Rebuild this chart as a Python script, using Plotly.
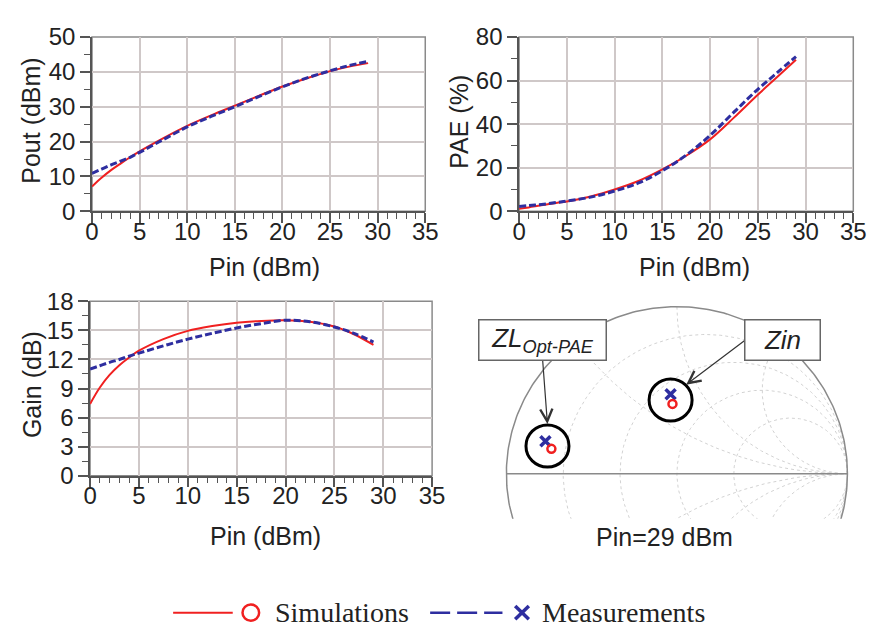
import numpy as np
import plotly.graph_objects as go

W, H = 879, 640

# ---------------- data ----------------
pin = [0, 1, 2, 3, 4, 5, 7.5, 10, 12.5, 15, 17.5, 20, 22.5, 25, 27, 29]
pout_sim = [7.1, 9.6, 11.8, 13.7, 15.5, 17.2, 21.0, 24.5, 27.5, 30.3, 33.1, 35.8, 38.1, 40.2, 41.5, 42.5]
pout_meas = [10.9, 12.1, 13.3, 14.4, 15.5, 16.9, 20.6, 24.2, 27.2, 30.0, 32.9, 35.7, 38.2, 40.3, 41.8, 43.0]
pae_sim = [1.2, 1.8, 2.5, 3.2, 3.9, 4.5, 6.8, 10.0, 13.9, 19.2, 25.5, 33.0, 43.0, 53.5, 61.5, 69.6]
pae_meas = [2.2, 2.6, 3.0, 3.5, 4.1, 4.7, 6.5, 9.3, 13.0, 18.6, 25.8, 34.8, 45.5, 56.0, 63.5, 71.0]
gain_sim = [7.4, 9.1, 10.4, 11.4, 12.2, 12.9, 14.1, 14.95, 15.45, 15.8, 15.98, 16.05, 15.9, 15.4, 14.6, 13.5]
gain_meas = [11.0, 11.35, 11.7, 12.0, 12.35, 12.65, 13.4, 14.1, 14.7, 15.25, 15.7, 16.05, 15.9, 15.35, 14.7, 13.8]

# reflection coefficients at Pin = 29 dBm (real, imag)
gamma_labels = ["ZL Opt-PAE", "Zin"]
gamma_sim_re = [-0.736, -0.026]
gamma_sim_im = [0.149, 0.418]
gamma_meas_re = [-0.771, -0.037]
gamma_meas_im = [0.195, 0.476]

RED = "#f02020"
BLUE = "#2e2ea0"
FONT = "Liberation Sans"
SERIF = "Liberation Serif"

def px(x):
    return x / W

def py(y):
    return 1 - y / H

fig = go.Figure()

panels = [
    ("x", "y", pout_sim, pout_meas),
    ("x2", "y2", pae_sim, pae_meas),
    ("x3", "y3", gain_sim, gain_meas),
]
for xa, ya, s, m in panels:
    fig.add_trace(go.Scatter(x=pin, y=s, mode="lines", line=dict(color=RED, width=2, shape="spline"),
                             xaxis=xa, yaxis=ya, showlegend=False))
    fig.add_trace(go.Scatter(x=pin, y=m, mode="lines", line=dict(color=BLUE, width=3, dash="7px,3px", shape="spline"),
                             xaxis=xa, yaxis=ya, showlegend=False))

# ---------------- Smith chart grid ----------------
GRID = "#d2d2d2"
th = np.linspace(0, 2 * np.pi, 361)
for r in [0.2, 0.5, 1, 2]:
    c, rad = r / (1 + r), 1 / (1 + r)
    fig.add_trace(go.Scatter(x=c + rad * np.cos(th), y=rad * np.sin(th), mode="lines",
                             line=dict(color=GRID, width=1, dash="dot"), xaxis="x4", yaxis="y4",
                             showlegend=False, hoverinfo="skip"))
rr = np.concatenate([np.linspace(0, 5, 300), np.logspace(0.7, 4, 200)])
for xv in [0.5, 1, 2, -0.5, -1, -2]:
    z = rr + 1j * xv
    g = (z - 1) / (z + 1)
    fig.add_trace(go.Scatter(x=g.real, y=g.imag, mode="lines",
                             line=dict(color=GRID, width=1, dash="dot"), xaxis="x4", yaxis="y4",
                             showlegend=False, hoverinfo="skip"))
# outer circle and real axis
fig.add_trace(go.Scatter(x=np.cos(th), y=np.sin(th), mode="lines", line=dict(color="#8a8a8a", width=1.5),
                         xaxis="x4", yaxis="y4", showlegend=False, hoverinfo="skip"))
fig.add_trace(go.Scatter(x=[-1, 1], y=[0, 0], mode="lines", line=dict(color="#8a8a8a", width=1.5),
                         xaxis="x4", yaxis="y4", showlegend=False, hoverinfo="skip"))

# measured / simulated points
fig.add_trace(go.Scatter(x=gamma_meas_re, y=gamma_meas_im, mode="markers", text=gamma_labels,
                         marker=dict(symbol="x-thin", size=10, line=dict(color=BLUE, width=3.5), color=BLUE),
                         xaxis="x4", yaxis="y4", showlegend=False))
fig.add_trace(go.Scatter(x=gamma_sim_re, y=gamma_sim_im, mode="markers", text=gamma_labels,
                         marker=dict(symbol="circle-open", size=8, line=dict(color=RED, width=2.5), color=RED),
                         xaxis="x4", yaxis="y4", showlegend=False))

# ---------------- axes ----------------
tickfont = dict(family=FONT, size=24, color="#222")

def cart_axis(domain, rng, dtick, minor_dtick, anchor, is_x):
    d = dict(domain=domain, range=rng, dtick=dtick, tick0=0, anchor=anchor,
             showgrid=True, gridcolor="#cfc8c8", gridwidth=1.5,
             showline=True, linecolor="#555", linewidth=1.5, mirror=False,
             ticks="outside", ticklen=10, tickwidth=1.5, tickcolor="#555",
             tickfont=tickfont, zeroline=False,
             minor=dict(dtick=minor_dtick, tick0=0, ticks="outside", ticklen=6,
                        tickwidth=1.2, tickcolor="#555", showgrid=False))
    if is_x:
        d["ticklabelstandoff"] = -12
    return d

TL = (87, 428, 24, 206)
TR = (524, 866, 24, 206)
BL = (85, 435, 300, 482)

def dom(p):
    return [px(p[0]), px(p[1])], [py(p[3]), py(p[2])]

xd, yd = dom(TL)
x2d, y2d = dom(TR)
x3d, y3d = dom(BL)

layout = dict(
    width=W, height=H, margin=dict(l=0, r=0, t=0, b=0),
    paper_bgcolor="white", plot_bgcolor="white",
    xaxis=cart_axis(xd, [0, 35], 5, 1, "y", True),
    yaxis=cart_axis(yd, [0, 50], 10, 5, "x", False),
    xaxis2=cart_axis(x2d, [0, 35], 5, 1, "y2", True),
    yaxis2=cart_axis(y2d, [0, 80], 20, 10, "x2", False),
    xaxis3=cart_axis(x3d, [0, 35], 5, 1, "y3", True),
    yaxis3=cart_axis(y3d, [0, 18], 3, 1.5, "x3", False),
    xaxis4=dict(domain=[px(500), px(870)], range=[(500 - 685.5) / 174.5, (870 - 685.5) / 174.5],
                visible=False, anchor="y4"),
    yaxis4=dict(domain=[py(527), py(300)], range=[(480 - 527) / 174.5, (480 - 300) / 174.5],
                visible=False, anchor="x4"),
    showlegend=False,
)
fig.update_layout(**layout)

shapes = []
# frames (top/right) for the three cartesian plots
for p in (TL, TR, BL):
    shapes.append(dict(type="rect", xref="paper", yref="paper", x0=px(p[0]), x1=px(p[1]),
                       y0=py(p[3]), y1=py(p[2]), line=dict(color="#8a8a8a", width=1.5), layer="below"))

# circles around the points
for cx, cy in [(-0.759, 0.166), (-0.037, 0.441)]:
    r = 22 / 174.5
    shapes.append(dict(type="circle", xref="x4", yref="y4", x0=cx - r, x1=cx + r, y0=cy - r, y1=cy + r,
                       line=dict(color="black", width=3)))

# legend samples
ly = 625
shapes.append(dict(type="line", xref="paper", yref="paper", x0=px(170), x1=px(231), y0=py(ly), y1=py(ly),
                   line=dict(color=RED, width=2)))
shapes.append(dict(type="circle", xref="paper", yref="paper", x0=px(241), x1=px(258), y0=py(ly + 8.5), y1=py(ly - 8.5),
                   line=dict(color=RED, width=2.5)))
shapes.append(dict(type="line", xref="paper", yref="paper", x0=px(433), x1=px(507), y0=py(ly), y1=py(ly),
                   line=dict(color=BLUE, width=2.5, dash="20px,7px")))
for (a, b, c, d) in [(520, ly - 7, 534, ly + 7), (520, ly + 7, 534, ly - 7)]:
    shapes.append(dict(type="line", xref="paper", yref="paper", x0=px(a), x1=px(c), y0=py(b), y1=py(d),
                       line=dict(color=BLUE, width=3.5)))
fig.update_layout(shapes=shapes)

titlefont = dict(family=FONT, size=25, color="#222")
ann = []
def title(text, x, y, angle=0):
    ann.append(dict(text=text, x=px(x), y=py(y), xref="paper", yref="paper", showarrow=False,
                    xanchor="center", yanchor="middle", textangle=angle, font=titlefont))

title("Pin (dBm)", 264, 264)
title("Pout (dBm)", 25, 111, -90)
title("Pin (dBm)", 704, 264)
title("PAE (%)", 463, 112, -90)
title("Pin (dBm)", 265, 545)
title("Gain (dB)", 25, 387, -90)
title("Pin=29 dBm", 673, 546)

# arrows
ann.append(dict(text="", x=px(553), y=py(428), xref="paper", yref="paper", ax=-5, ay=-67,
                showarrow=True, arrowhead=5, arrowsize=2, arrowwidth=1.2, arrowcolor="#333"))
ann.append(dict(text="", x=px(695), y=py(387), xref="paper", yref="paper", ax=61, ay=-46,
                showarrow=True, arrowhead=5, arrowsize=2, arrowwidth=1.2, arrowcolor="#333"))
# labelled boxes
ann.append(dict(text="<i>ZL<sub>Opt-PAE</sub></i>", x=px(548), y=py(340.5), xref="paper", yref="paper",
                showarrow=False, xanchor="center", yanchor="middle", width=124, height=37, borderpad=1,
                bgcolor="white", bordercolor="#666", borderwidth=1.5, font=dict(family=FONT, size=26, color="#222")))
ann.append(dict(text="<i>Zin</i>", x=px(794), y=py(340.5), xref="paper", yref="paper",
                showarrow=False, xanchor="center", yanchor="middle", width=72, height=37, borderpad=1,
                bgcolor="white", bordercolor="#666", borderwidth=1.5, font=dict(family=FONT, size=26, color="#222")))

# legend text
ann.append(dict(text="Simulations", x=px(272), y=py(ly), xref="paper", yref="paper", showarrow=False,
                xanchor="left", yanchor="middle", font=dict(family=SERIF, size=28, color="#222")))
ann.append(dict(text="Measurements", x=px(545), y=py(ly), xref="paper", yref="paper", showarrow=False,
                xanchor="left", yanchor="middle", font=dict(family=SERIF, size=28, color="#222")))
fig.update_layout(annotations=ann)

fig.write_html("out.html")
